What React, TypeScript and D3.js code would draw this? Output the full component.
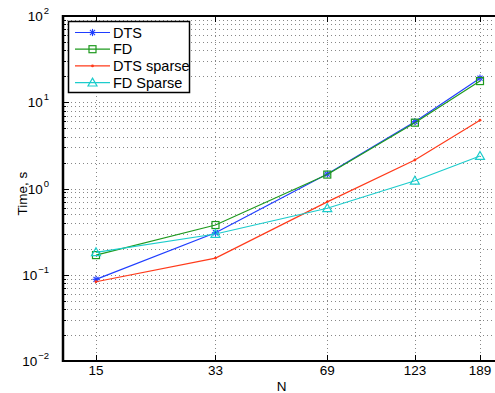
import React from "react";
import * as d3 from "d3";

const N = [15, 33, 69, 123, 189];
const dts = [0.0885, 0.307, 1.47, 5.95, 19.0];
const fd = [0.169, 0.377, 1.45, 5.8, 17.6];
const dtsSparse = [0.083, 0.156, 0.7, 2.14, 6.2];
const fdSparse = [0.182, 0.297, 0.59, 1.23, 2.38];
const seriesNames = ["DTS", "FD", "DTS sparse", "FD Sparse"];
const yDecades = [-2, -1, 0, 1, 2];

const W = 495, H = 393;
const left = 63, top = 16, bottom = 361, rightEdge = 500;

export default function App() {
  const x = d3.scaleLog().domain([15, 189]).range([96, 480]);
  const y = d3.scaleLog().domain([0.01, 100]).range([bottom, top]);

  const series = [
    { name: seriesNames[0], data: dts, color: "#1f3dff", marker: "star" },
    { name: seriesNames[1], data: fd, color: "#1e9a1e", marker: "square" },
    { name: seriesNames[2], data: dtsSparse, color: "#ff3a1a", marker: "dot" },
    { name: seriesNames[3], data: fdSparse, color: "#1ccccc", marker: "tri" },
  ];

  const line = d3.line<number>().x((_, i) => x(N[i])).y((d) => y(d));

  const minor: number[] = [];
  for (let k = -2; k < 2; k++) for (let m = 2; m <= 9; m++) minor.push(m * Math.pow(10, k));

  const marker = (type: string, cx: number, cy: number, color: string, key: string) => {
    if (type === "star") {
      const r = 3.6;
      return (
        <g key={key} stroke={color} strokeWidth={1.1}>
          <line x1={cx - r} y1={cy} x2={cx + r} y2={cy} />
          <line x1={cx} y1={cy - r} x2={cx} y2={cy + r} />
          <line x1={cx - r * 0.7} y1={cy - r * 0.7} x2={cx + r * 0.7} y2={cy + r * 0.7} />
          <line x1={cx - r * 0.7} y1={cy + r * 0.7} x2={cx + r * 0.7} y2={cy - r * 0.7} />
        </g>
      );
    }
    if (type === "square") {
      return <rect key={key} x={cx - 3.5} y={cy - 3.5} width={7} height={7} fill="none" stroke={color} strokeWidth={1.2} />;
    }
    if (type === "dot") {
      return <circle key={key} cx={cx} cy={cy} r={1.4} fill={color} />;
    }
    const s = 4.5;
    return (
      <path key={key} d={`M${cx},${cy - s}L${cx + s},${cy + s * 0.75}L${cx - s},${cy + s * 0.75}Z`} fill="none" stroke={color} strokeWidth={1.2} />
    );
  };

  const font = "Liberation Sans, Arial, sans-serif";

  return (
    <svg width={W} height={H} style={{ position: "absolute", left: 0, top: 0 }} fontFamily={font}>
      <rect x={0} y={0} width={W} height={H} fill="#fff" />
      {/* grid */}
      <g stroke="#555" strokeWidth={1} strokeDasharray="1,3" opacity={0.7}>
        {minor.map((v, i) => (
          <line key={"mg" + i} x1={left} x2={rightEdge} y1={Math.round(y(v)) + 0.5} y2={Math.round(y(v)) + 0.5} />
        ))}
        {yDecades.slice(1, -1).map((k) => (
          <line key={"Mg" + k} x1={left} x2={rightEdge} y1={Math.round(y(Math.pow(10, k))) + 0.5} y2={Math.round(y(Math.pow(10, k))) + 0.5} />
        ))}
        {N.map((n) => (
          <line key={"xg" + n} x1={Math.round(x(n)) + 0.5} x2={Math.round(x(n)) + 0.5} y1={top} y2={bottom} />
        ))}
      </g>
      {/* ticks */}
      <g stroke="#000" strokeWidth={1}>
        {minor.map((v, i) => (
          <line key={"mt" + i} x1={left} x2={left + 3} y1={Math.round(y(v)) + 0.5} y2={Math.round(y(v)) + 0.5} />
        ))}
        {yDecades.map((k) => (
          <line key={"Mt" + k} x1={left} x2={left + 6} y1={Math.round(y(Math.pow(10, k))) + 0.5} y2={Math.round(y(Math.pow(10, k))) + 0.5} />
        ))}
        {N.map((n) => (
          <g key={"xt" + n}>
            <line x1={Math.round(x(n)) + 0.5} x2={Math.round(x(n)) + 0.5} y1={bottom} y2={bottom - 6} />
            <line x1={Math.round(x(n)) + 0.5} x2={Math.round(x(n)) + 0.5} y1={top} y2={top + 6} />
          </g>
        ))}
      </g>
      {/* series */}
      {series.map((s) => (
        <g key={s.name}>
          <path d={line(s.data) || ""} fill="none" stroke={s.color} strokeWidth={1.2} />
          {s.data.map((d, i) => marker(s.marker, x(N[i]), y(d), s.color, s.name + i))}
        </g>
      ))}
      {/* frame */}
      <g stroke="#000" fill="none">
        <line x1={left} x2={rightEdge} y1={top} y2={top} strokeWidth={2} />
        <line x1={left} x2={rightEdge} y1={bottom} y2={bottom} strokeWidth={2} />
        <line x1={left} x2={left} y1={top - 1} y2={bottom + 1} strokeWidth={2.5} />
      </g>
      {/* y tick labels */}
      {yDecades.map((k) => (
        <text key={"yl" + k} x={49} y={y(Math.pow(10, k)) + 5} textAnchor="end" fontSize={13.5} fill="#000">
          10
          <tspan dx={1} dy={-7} fontSize={9.5}>{k < 0 ? "\u2212" + Math.abs(k) : String(k)}</tspan>
        </text>
      ))}
      {/* x tick labels */}
      {N.map((n) => (
        <text key={"xl" + n} x={x(n)} y={375} textAnchor="middle" fontSize={13.5} fill="#000">
          {n}
        </text>
      ))}
      <text x={(left + 492) / 2 + 4} y={391} textAnchor="middle" fontSize={13.5}>N</text>
      <text transform={`translate(27,${(top + bottom) / 2 + 5}) rotate(-90)`} textAnchor="middle" fontSize={13.5}>
        Time, s
      </text>
      {/* legend */}
      <g>
        <rect x={68.5} y={21.5} width={121} height={71} fill="#fff" stroke="#000" strokeWidth={1.5} />
        {series.map((s, i) => {
          const ly = 32.5 + i * 16.7;
          return (
            <g key={"lg" + s.name}>
              <line x1={75} x2={110} y1={ly} y2={ly} stroke={s.color} strokeWidth={1.2} />
              {marker(s.marker, 92.5, ly, s.color, "lm" + i)}
              <text x={113} y={ly + 5} fontSize={14.5} fill="#000">{s.name}</text>
            </g>
          );
        })}
      </g>
    </svg>
  );
}
